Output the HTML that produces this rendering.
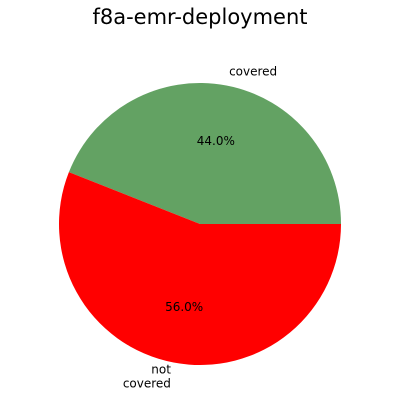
<!DOCTYPE html>
<html><head><meta charset="utf-8">
<style>
html,body{margin:0;padding:0;background:#fff;}
svg{display:block;font-family:"DejaVu Sans","Liberation Sans",sans-serif;}
</style></head>
<body>
<svg id="chart" width="400" height="400">
<text x="200" y="24" font-size="21" text-anchor="middle">f8a-emr-deployment</text>
<g id="slices"></g>
</svg>
<script>
const labels = ["covered", "not\ncovered"];
const values = [44, 56];
const colors = ["#63a263", "#ff0000"];

const cx = 200, cy = 224, r = 141;
const svg = document.getElementById('slices');
const ns = 'http://www.w3.org/2000/svg';
const total = values.reduce((a,b)=>a+b,0);
let start = 0;
values.forEach((v,i)=>{
  const sweep = v/total*360;
  const a0 = start*Math.PI/180, a1 = (start+sweep)*Math.PI/180;
  const x0 = cx + r*Math.cos(a0), y0 = cy - r*Math.sin(a0);
  const x1 = cx + r*Math.cos(a1), y1 = cy - r*Math.sin(a1);
  const large = sweep>180?1:0;
  const p = document.createElementNS(ns,'path');
  p.setAttribute('d',`M${cx},${cy} L${x0},${y0} A${r},${r} 0 ${large} 0 ${x1},${y1} Z`);
  p.setAttribute('fill',colors[i]);
  
  
  svg.appendChild(p);
  const mid = (start+sweep/2)*Math.PI/180;
  // percent label
  const t = document.createElementNS(ns,'text');
  t.setAttribute('x', cx + 0.6*r*Math.cos(mid));
  t.setAttribute('y', cy - 0.6*r*Math.sin(mid) + 4);
  t.setAttribute('font-size','12');
  t.setAttribute('text-anchor','middle');
  t.textContent = (v/total*100).toFixed(1)+'%';
  
  
  svg.appendChild(t);
  // category label
  const lx = cx + 1.1*r*Math.cos(mid), ly = cy - 1.1*r*Math.sin(mid);
  const lines = labels[i].split('\n');
  const lt = document.createElementNS(ns,'text');
  lt.setAttribute('font-size','12');
  lt.setAttribute('text-anchor', Math.cos(mid)>=0?'start':'end');
  
  
  const lh = 14;
  lines.forEach((ln,j)=>{
    const ts = document.createElementNS(ns,'tspan');
    ts.setAttribute('x', lx);
    ts.setAttribute('y', ly + 4 + (j-(lines.length-1)/2)*lh);
    ts.textContent = ln;
    lt.appendChild(ts);
  });
  svg.appendChild(lt);
  start += sweep;
});
</script>
</body></html>
